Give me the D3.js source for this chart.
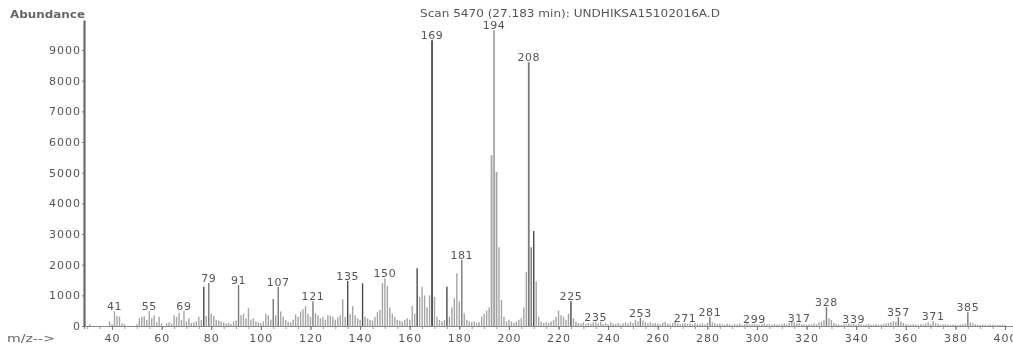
<!DOCTYPE html>
<html>
<head>
<meta charset="utf-8">
<script src="https://cdn.jsdelivr.net/npm/d3@7/dist/d3.min.js"></script>
<style>
  body { margin: 0; background: #fff; }
  text { font-family: "DejaVu Sans", sans-serif; }
</style>
</head>
<body>
<div id="chart"></div>
<script>
// [m/z, abundance]
const peaksA = [[29,80],[31,60],[39,150],[40,60],[41,480],[42,330],[43,300],[44,80],[45,60],[50,60],
  [51,250],[52,300],[53,320],[54,200],[55,490],[56,250],[57,350],[58,120],[59,300],[60,80],[62,90],
  [63,120],[64,80],[65,350],[66,300],[67,420],[68,200],[69,490],[70,150],[71,250],[72,100],[73,120],
  [74,150],[75,300],[76,200],[77,1280],[78,330],[79,1400],[80,400],[81,330],[82,200],[83,180],[84,150],
  [85,120],[86,80],[87,100],[88,60],[89,150],[90,180],[91,1335],[92,350],[93,400],[94,250],[95,580],
  [96,200],[97,250],[98,150],[99,120]];

const peaksB = [[100,100],[101,150],[102,400],[103,350],[104,200],[105,880],[106,350],[107,1270],
  [108,470],[109,300],[110,200],[111,150],[112,120],[113,200],[114,380],[115,300],[116,470],[117,550],
  [118,650],[119,400],[120,300],[121,810],[122,420],[123,350],[124,250],[125,300],[126,200],[127,350],
  [128,330],[129,300],[130,200],[131,280],[132,350],[133,870],[134,300],[135,1470],[136,400],[137,650],
  [138,350],[139,250],[140,200],[141,1390],[142,300],[143,250],[144,200],[145,180],[146,300],[147,450],
  [148,520],[149,1400],[150,1560],[151,1300],[152,600],[153,400],[154,300],[155,200],[156,180],[157,150],
  [158,200],[159,250],[160,200],[161,650],[162,400],[163,1880],[164,950],[165,1280],[166,1000],[167,600],
  [168,1000],[169,9316],[170,950],[171,300],[172,200],[173,150],[174,200],[175,1280],[176,300],[177,600],
  [178,900],[179,1720],[180,800],[181,2150],[182,410],[183,200],[184,150],[185,120],[186,150],[187,100],
  [188,120],[189,300],[190,400],[191,500],[192,600],[193,5570],[194,9640],[195,5020],[196,2570],
  [197,850],[198,300],[199,150]];

const peaksC = [[200,200],[201,150],[202,100],[203,150],[204,200],[205,250],[206,600],[207,1760],
  [208,8600],[209,2570],[210,3100],[211,1450],[212,300],[213,150],[214,100],[215,120],[216,100],
  [217,150],[218,200],[219,300],[220,500],[221,350],[222,300],[223,200],[224,400],[225,810],[226,250],
  [227,150],[228,100],[229,80],[230,120],[231,60],[232,100],[233,80],[234,120],[235,130],[236,90],
  [237,150],[238,70],[239,100],[240,60],[241,120],[242,80],[243,60],[244,100],[245,50],[246,90],
  [247,120],[248,80],[249,150],[250,100],[251,200],[252,150],[253,260],[254,180],[255,130],[256,90],
  [257,120],[258,80],[259,100],[260,70],[261,60],[262,110],[263,140],[264,80],[265,60],[266,100],
  [267,150],[268,90],[269,60],[270,80],[271,100],[272,60],[273,80],[274,50],[275,100],[276,70],
  [277,60],[278,90],[279,50],[280,100],[281,290],[282,120],[283,90],[284,60],[285,80],[286,50],
  [287,40],[288,70],[289,50],[290,40],[291,60],[292,50],[293,80],[294,40],[295,60],[296,90],[297,50],
  [298,60],[299,70]];

const peaksD = [[300,50],[301,40],[302,60],[303,80],[304,50],[305,60],[306,40],[307,70],[308,50],
  [309,40],[310,60],[311,80],[312,50],[313,100],[314,150],[315,120],[316,80],[317,100],[318,60],
  [319,50],[320,40],[321,60],[322,50],[323,80],[324,60],[325,120],[326,150],[327,200],[328,620],
  [329,250],[330,200],[331,100],[332,60],[333,50],[334,40],[335,60],[336,50],[337,80],[338,60],
  [339,70],[340,50],[341,80],[342,60],[343,40],[344,50],[345,60],[346,40],[347,50],[348,60],[349,40],
  [350,50],[351,60],[352,80],[353,100],[354,120],[355,160],[356,140],[357,290],[358,150],[359,100],
  [360,60],[361,50],[362,40],[363,60],[364,50],[365,40],[366,60],[367,50],[368,80],[369,120],[370,60],
  [371,160],[372,90],[373,60],[374,40],[375,50],[376,60],[377,40],[378,30],[379,50],[380,40],[381,30],
  [382,50],[383,60],[384,80],[385,450],[386,120],[387,90],[388,60],[389,40],[390,30],[391,50],
  [392,40],[393,30],[394,50],[395,40],[396,30],[397,40],[398,30],[399,40],[400,30]];

const labelledPeaks = [41, 55, 69, 79, 91, 107, 121, 135, 150, 169, 181, 194, 208, 225, 235, 253,
  271, 281, 299, 317, 328, 339, 357, 371, 385];

const yTicks = [0, 1000, 2000, 3000, 4000, 5000, 6000, 7000, 8000, 9000];
const xTicks = [40, 60, 80, 100, 120, 140, 160, 180, 200, 220, 240, 260, 280, 300, 320, 340, 360, 380, 400];

const titleText = 'Scan 5470 (27.183 min): UNDHIKSA15102016A.D';

// line shades (scan is grey, a few lines print darker)
const darkLines = [77, 135, 141, 163, 169, 175, 210, 225];
const midLines = [79, 91, 105, 107, 121, 181, 208, 209, 253, 281, 328, 357, 385];

const width = 1013, height = 345;

const spectrum = [...peaksA, ...peaksB, ...peaksC, ...peaksD].map(d => ({ mz: d[0], abundance: d[1] }));

const x = d3.scaleLinear().domain([28.7, 403.2]).range([84, 1013]);
const y = d3.scaleLinear().domain([0, 9978]).range([326, 20]);

const svg = d3.select('#chart')
  .append('svg')
  .attr('width', width)
  .attr('height', height);

const defs = svg.append('defs');
defs.append('filter').attr('id', 'soft')
  .append('feGaussianBlur').attr('stdDeviation', 0.35);

// spectrum lines
svg.append('g')
  .attr('class', 'lines')
  .selectAll('line')
  .data(spectrum)
  .enter()
  .append('line')
  .attr('x1', d => x(d.mz))
  .attr('x2', d => x(d.mz))
  .attr('y1', y(0))
  .attr('y2', d => y(d.abundance))
  .attr('stroke', d => darkLines.includes(d.mz) ? '#4a4a4a' : midLines.includes(d.mz) ? '#7a7a7a' : '#a5a5a5')
  .attr('stroke-width', d => d.abundance > 4000 ? 1.8 : 1.4);

// x axis: minor ticks every 5, labelled ticks every 20
const minorX = d3.range(30, 401, 5);
svg.append('g')
  .attr('class', 'axis axis-x-minor')
  .attr('transform', `translate(0, ${y(0)})`)
  .call(d3.axisBottom(x).tickValues(minorX).tickSize(3).tickFormat(''))
  .call(g => g.select('.domain').attr('stroke', '#888').attr('stroke-width', 1.2))
  .call(g => g.selectAll('.tick line').attr('stroke', '#999'));

svg.append('g')
  .attr('class', 'axis axis-x')
  .attr('transform', `translate(0, ${y(0)})`)
  .call(d3.axisBottom(x).tickValues(xTicks).tickSize(4).tickPadding(4).tickSizeOuter(0).tickFormat(d3.format('d')))
  .call(g => g.select('.domain').remove())
  .call(g => g.selectAll('.tick line').attr('stroke', '#777'))
  .call(g => g.selectAll('.tick text')
    .attr('fill', '#555')
    .attr('font-size', 11)
    .attr('letter-spacing', 1)
    .attr('font-family', '"DejaVu Sans", sans-serif')
    .attr('filter', 'url(#soft)'));

// y axis
svg.append('g')
  .attr('class', 'axis axis-y')
  .attr('transform', `translate(${x(28.7)}, 0)`)
  .call(d3.axisLeft(y).tickValues(yTicks).tickSize(2).tickPadding(1).tickSizeOuter(0).tickFormat(d3.format('d')))
  .call(g => g.select('.domain').attr('stroke', '#6a6a6a').attr('stroke-width', 2.2))
  .call(g => g.selectAll('.tick line').attr('stroke', '#777'))
  .call(g => g.selectAll('.tick text')
    .attr('fill', '#555')
    .attr('font-size', 11)
    .attr('letter-spacing', 1)
    .attr('font-family', '"DejaVu Sans", sans-serif')
    .attr('filter', 'url(#soft)'));

// peak labels
const byMz = new Map(spectrum.map(d => [d.mz, d.abundance]));
svg.append('g')
  .attr('class', 'peak-labels')
  .selectAll('text')
  .data(labelledPeaks)
  .enter()
  .append('text')
  .attr('x', d => x(d))
  .attr('y', d => y(byMz.get(d)) - 1)
  .attr('text-anchor', 'middle')
  .attr('font-size', 11)
  .attr('letter-spacing', 0.6)
  .attr('fill', '#555')
  .attr('filter', 'url(#soft)')
  .text(d => d);

// header texts
svg.append('text')
  .attr('x', 10).attr('y', 18)
  .attr('font-size', 11)
  .attr('font-weight', 'bold')
  .attr('fill', '#666')
  .attr('textLength', 75)
  .attr('lengthAdjust', 'spacingAndGlyphs')
  .attr('filter', 'url(#soft)')
  .text('Abundance');

svg.append('text')
  .attr('x', 420).attr('y', 17)
  .attr('font-size', 11)
  .attr('fill', '#555')
  .attr('textLength', 300)
  .attr('lengthAdjust', 'spacingAndGlyphs')
  .attr('filter', 'url(#soft)')
  .text(titleText);

svg.append('text')
  .attr('x', 7).attr('y', 342)
  .attr('font-size', 11)
  .attr('fill', '#666')
  .attr('textLength', 48)
  .attr('lengthAdjust', 'spacingAndGlyphs')
  .attr('filter', 'url(#soft)')
  .text('m/z-->');
</script>
</body>
</html>
